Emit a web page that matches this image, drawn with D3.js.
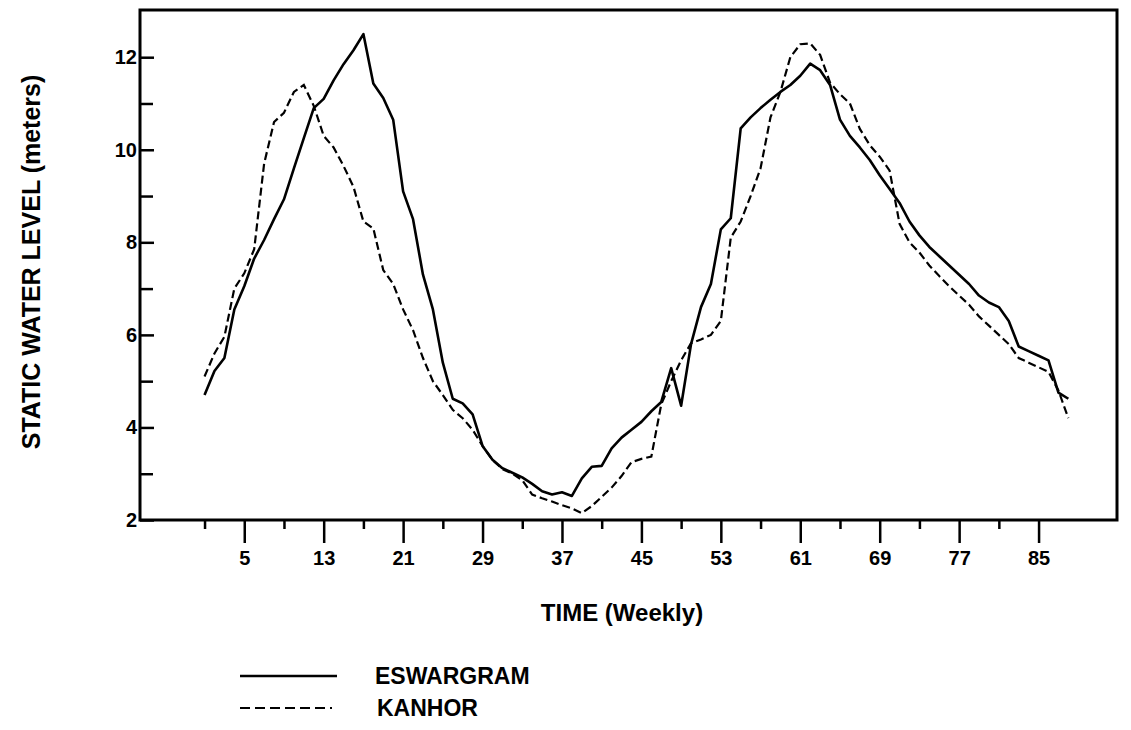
<!DOCTYPE html>
<html>
<head>
<meta charset="utf-8">
<script src="https://d3js.org/d3.v7.min.js"></script>
<style>
  body { margin: 0; background: #fff; }
  text { font-family: "Liberation Sans", Arial, Helvetica, sans-serif; font-weight: bold; fill: #000; }
</style>
</head>
<body>
<div id="my_dataviz"></div>
<script>
// weekly readings, week 1 to 88
var weeks = d3.range(1, 89);

var eswargram = [
  4.70, 5.22, 5.50, 6.55, 7.05, 7.65, 8.05, 8.50, 8.93, 9.60,
  10.25, 10.90, 11.10, 11.50, 11.85, 12.15, 12.50, 11.43, 11.12, 10.65,
  9.10, 8.50, 7.30, 6.55, 5.40, 4.62, 4.52, 4.28, 3.60, 3.30,
  3.12, 3.02, 2.92, 2.78, 2.62, 2.55, 2.60, 2.52, 2.90, 3.15,
  3.17, 3.55, 3.78, 3.95, 4.12, 4.35, 4.55, 5.28, 4.47, 5.80,
  6.60, 7.10, 8.28, 8.52, 10.46, 10.70, 10.90, 11.08, 11.25, 11.40,
  11.60, 11.86, 11.72, 11.40, 10.65, 10.30, 10.05, 9.78, 9.45, 9.15,
  8.85, 8.45, 8.15, 7.90, 7.70, 7.50, 7.30, 7.10, 6.85, 6.70,
  6.60, 6.30, 5.75, 5.65, 5.55, 5.45, 4.75, 4.62
];

var kanhor = [
  5.10, 5.60, 5.96, 7.00, 7.33, 7.85, 9.70, 10.60, 10.80, 11.25,
  11.40, 10.95, 10.30, 10.05, 9.65, 9.20, 8.45, 8.30, 7.40, 7.10,
  6.55, 6.10, 5.50, 5.00, 4.70, 4.38, 4.20, 3.95, 3.60, 3.30,
  3.10, 3.00, 2.86, 2.55, 2.47, 2.40, 2.32, 2.25, 2.15, 2.30,
  2.50, 2.70, 2.95, 3.25, 3.32, 3.37, 4.50, 5.00, 5.45, 5.82,
  5.90, 6.00, 6.30, 8.10, 8.45, 9.00, 9.60, 10.70, 11.25, 12.00,
  12.28, 12.30, 12.05, 11.45, 11.20, 11.00, 10.45, 10.10, 9.85, 9.55,
  8.40, 8.00, 7.78, 7.50, 7.27, 7.05, 6.85, 6.65, 6.40, 6.20,
  6.00, 5.80, 5.50, 5.40, 5.30, 5.20, 4.80, 4.20
];

var xMajorTicks = [5, 13, 21, 29, 37, 45, 53, 61, 69, 77, 85];
var xMinorTicks = [1, 9, 17, 25, 33, 41, 49, 57, 65, 73, 81];
var yMajorTicks = [2, 4, 6, 8, 10, 12];
var yMinorTicks = [3, 5, 7, 9, 11];

var seriesNames = ["ESWARGRAM", "KANHOR"];

var w = 1131, h = 730;
var margin = {top: 10, right: 14, bottom: 210, left: 140};
var width = w - margin.left - margin.right;
var height = h - margin.top - margin.bottom;

var svg = d3.select("#my_dataviz")
  .append("svg")
    .attr("width", w)
    .attr("height", h)
  .append("g")
    .attr("transform", "translate(" + margin.left + "," + margin.top + ")");

var x = d3.scaleLinear()
  .domain([-5.5, 92.9])
  .range([0, width]);

var y = d3.scaleLinear()
  .domain([2, 13.02])
  .range([height, 0]);

// minor x ticks (short, no labels)
svg.append("g")
  .attr("class", "x-minor")
  .attr("transform", "translate(0," + height + ")")
  .call(d3.axisBottom(x).tickValues(xMinorTicks).tickSize(9).tickFormat(""));

// major x ticks
svg.append("g")
  .attr("class", "x-axis")
  .attr("transform", "translate(0," + height + ")")
  .style("font-size", "20px")
  .call(d3.axisBottom(x).tickValues(xMajorTicks).tickSize(23).tickPadding(8));

// y ticks point inward
svg.append("g")
  .attr("class", "y-minor")
  .call(d3.axisLeft(y).tickValues(yMinorTicks).tickSize(-13).tickFormat(""));

svg.append("g")
  .attr("class", "y-axis")
  .style("font-size", "20px")
  .call(d3.axisLeft(y).tickValues(yMajorTicks).tickSize(-14).tickPadding(3));

svg.selectAll(".domain").remove();
svg.selectAll(".tick line").attr("stroke", "#000").attr("stroke-width", 2.5);
svg.selectAll(".tick text")
  .style("font-family", "'Liberation Sans', Arial, sans-serif")
  .style("font-weight", "bold")
  .attr("fill", "#000");

// frame
svg.append("rect")
  .attr("x", 0)
  .attr("y", 0)
  .attr("width", width)
  .attr("height", height)
  .attr("fill", "none")
  .attr("stroke", "#000")
  .attr("stroke-width", 3);

var line = d3.line()
  .x(function(d, i) { return x(weeks[i]); })
  .y(function(d) { return y(d); });

svg.append("path")
  .datum(eswargram)
  .attr("fill", "none")
  .attr("stroke", "#000")
  .attr("stroke-width", 2.6)
  .attr("stroke-linejoin", "round")
  .attr("d", line);

svg.append("path")
  .datum(kanhor)
  .attr("fill", "none")
  .attr("stroke", "#000")
  .attr("stroke-width", 2.2)
  .attr("stroke-dasharray", "8,4")
  .attr("d", line);

// axis titles
svg.append("text")
  .attr("x", 622 - margin.left)
  .attr("y", 621 - margin.top)
  .attr("text-anchor", "middle")
  .style("font-size", "24px")
  .text("TIME (Weekly)");

svg.append("text")
  .attr("transform", "translate(" + (40 - margin.left) + "," + (262 - margin.top) + ") rotate(-90)")
  .attr("text-anchor", "middle")
  .style("font-size", "25px")
  .text("STATIC WATER LEVEL (meters)");

// legend
var legend = svg.selectAll(".legend")
  .data(seriesNames)
  .enter().append("g")
  .attr("class", "legend")
  .attr("transform", function(d, i) {
    return "translate(" + (240 - margin.left) + "," + (676 + i * 32 - margin.top) + ")";
  });

legend.append("line")
  .attr("x1", 0)
  .attr("x2", function(d, i) { return i == 0 ? 97 : 92; })
  .attr("y1", 0)
  .attr("y2", 0)
  .attr("stroke", "#000")
  .attr("stroke-width", function(d, i) { return i == 0 ? 2.6 : 2.2; })
  .attr("stroke-dasharray", function(d, i) { return i == 0 ? null : "10,5"; });

legend.append("text")
  .attr("x", function(d, i) { return i == 0 ? 135 : 137; })
  .attr("y", 8)
  .style("font-size", "23px")
  .text(function(d) { return d; });
</script>
</body>
</html>
